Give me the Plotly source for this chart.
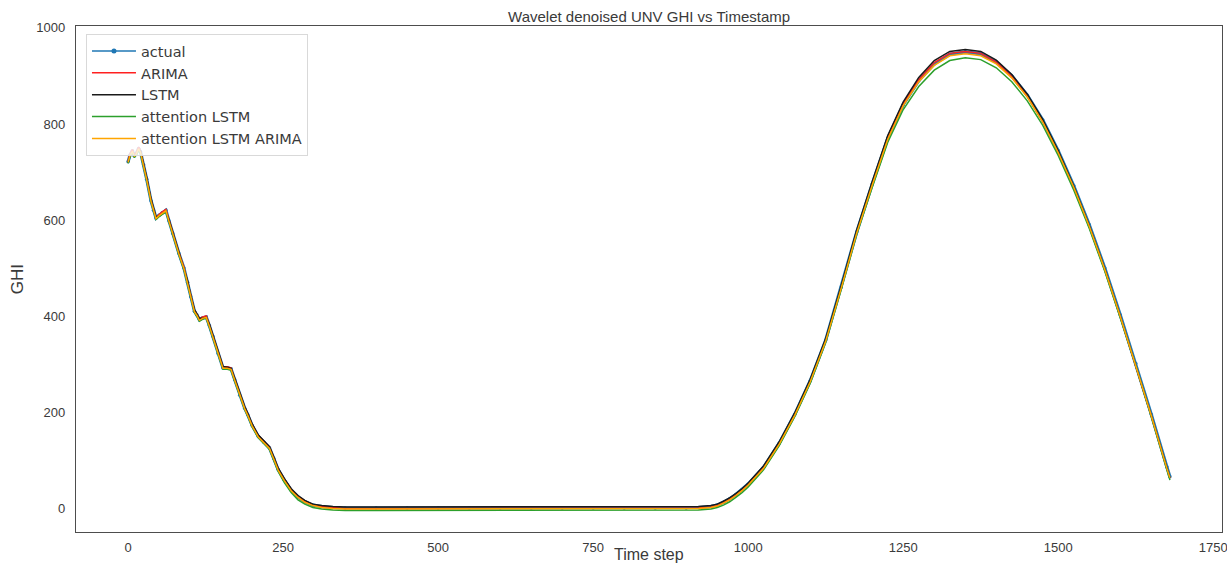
import plotly.graph_objects as go

time_step = [0, 3, 7, 10, 13, 17, 20, 25, 30, 37, 41, 45, 50, 55, 61, 66, 72, 82, 90, 96,
             101, 107, 111, 115, 120, 126, 131, 137, 145, 153, 160, 166, 172, 180, 188, 193, 200, 210, 219, 228,
             235, 242, 252, 263, 274, 285, 298, 312, 330,
             350, 400, 450, 500, 550, 600, 650, 700, 750, 800, 850, 900,
             920, 940, 950, 960, 970, 980, 990, 1000,
             1025, 1050, 1075, 1100, 1125, 1150, 1175, 1200, 1225, 1250, 1275, 1300, 1325, 1350,
             1375, 1400, 1425, 1450, 1475, 1500, 1525, 1550, 1575, 1600, 1625, 1650, 1675, 1680]

actual = [721, 735, 744, 733, 738, 749, 742, 715, 685, 640, 620, 604, 610, 615, 620, 598, 572, 530, 500, 470,
          440, 410, 402, 392, 396, 398, 380, 357, 322, 292, 292, 290, 267, 235, 208, 194, 172, 149, 137, 125,
          103, 80, 58, 37, 23, 13, 6, 3, 1,
          0, 0, 0, 0, 0, 0, 0, 0, 0, 0, 0, 0,
          1, 3, 6, 12, 19, 28, 38, 50,
          85, 135, 195, 265, 350, 460, 575, 675, 770, 840, 890, 925, 945, 950,
          946, 929, 900, 860, 808, 744, 671, 590, 500, 402, 301, 195, 86, 65]

arima = [723, 738, 747, 735, 740, 752, 744, 717, 687, 642, 621, 605, 611, 617, 622, 600, 574, 532, 502, 472,
         442, 412, 404, 394, 398, 400, 382, 359, 324, 294, 294, 292, 269, 237, 210, 196, 174, 151, 139, 127,
         105, 82, 60, 39, 24, 14, 7, 3, 1,
         -1, -1, -1, -1, -1, -1, -1, -1, -1, -1, -1, -1,
         0, 2, 5, 11, 18, 27, 37, 49,
         84, 134, 194, 264, 349, 459, 574, 675, 771, 842, 892, 928, 947, 951,
         947, 929, 899, 858, 805, 741, 668, 587, 497, 399, 298, 192, 83, 62]

lstm = [719, 733, 741, 734, 737, 746, 743, 717, 688, 643, 623, 606, 608, 613, 618, 600, 575, 533, 503, 473,
        443, 413, 404, 395, 395, 397, 383, 360, 325, 295, 293, 291, 270, 238, 211, 197, 175, 152, 139, 128,
        106, 83, 61, 40, 26, 16, 8, 5, 3,
        2, 2, 2, 2, 2, 2, 2, 2, 2, 2, 2, 2,
        3, 5, 8, 14, 21, 30, 40, 52,
        88, 138, 198, 268, 353, 463, 579, 680, 776, 846, 897, 932, 951, 955,
        951, 933, 903, 862, 809, 744, 670, 588, 498, 399, 298, 192, 84, 63]

att_lstm = [718, 732, 741, 730, 735, 745, 739, 712, 682, 637, 617, 601, 607, 612, 617, 595, 569, 527, 497, 467,
            437, 407, 399, 389, 393, 395, 377, 354, 319, 289, 289, 287, 264, 232, 205, 191, 169, 146, 134, 122,
            99, 76, 53, 32, 17, 8, 1, -2, -4,
            -5, -5, -5, -5, -5, -5, -5, -5, -5, -5, -5, -5,
            -4, -2, 1, 6, 13, 22, 32, 44,
            80, 130, 190, 260, 345, 455, 570, 668, 762, 830, 878, 912, 932, 938,
            934, 917, 888, 848, 797, 734, 662, 582, 493, 396, 296, 190, 81, 58]

att_lstm_arima = [720, 734, 743, 732, 737, 748, 741, 714, 684, 639, 619, 603, 609, 614, 619, 597, 571, 529, 499, 469,
                  439, 409, 401, 391, 395, 397, 379, 356, 321, 291, 291, 289, 266, 234, 207, 193, 171, 148, 136, 124,
                  102, 79, 57, 36, 22, 12, 5, 1, -1,
                  -2, -2, -2, -2, -2, -2, -2, -2, -2, -2, -2, -2,
                  -1, 1, 4, 10, 17, 26, 36, 48,
                  83, 133, 193, 263, 348, 458, 573, 673, 768, 838, 888, 922, 942, 946,
                  942, 925, 896, 856, 804, 740, 668, 587, 497, 399, 298, 192, 83, 63]

x_ticks = [0, 250, 500, 750, 1000, 1250, 1500, 1750]
y_ticks = [0, 200, 400, 600, 800, 1000]

FONT = "Liberation Sans, Arial, sans-serif"
TXT = "#3a3a3a"

fig = go.Figure()

# legend entry for actual (line with dot marker)
fig.add_trace(go.Scatter(x=[None], y=[None], mode="lines+markers", name="actual",
                         line=dict(color="#1f77b4", width=1.3),
                         marker=dict(color="#1f77b4", size=5), legendgroup="actual"))
fig.add_trace(go.Scatter(x=time_step, y=actual, mode="lines+markers", name="actual",
                         line=dict(color="#1f77b4", width=3.2),
                         marker=dict(color="#1f77b4", size=3.5),
                         showlegend=False, legendgroup="actual"))
fig.add_trace(go.Scatter(x=time_step, y=arima, mode="lines", name="ARIMA",
                         line=dict(color="#ff2020", width=1.5)))
fig.add_trace(go.Scatter(x=time_step, y=lstm, mode="lines", name="LSTM",
                         line=dict(color="#1a1a1a", width=1.5)))
fig.add_trace(go.Scatter(x=time_step, y=att_lstm, mode="lines", name="attention LSTM",
                         line=dict(color="#2ca02c", width=1.5)))
fig.add_trace(go.Scatter(x=time_step, y=att_lstm_arima, mode="lines", name="attention LSTM ARIMA",
                         line=dict(color="#ffa500", width=1.5)))

fig.update_layout(
    width=1227, height=566,
    margin=dict(l=76, r=5, t=26, b=34),
    paper_bgcolor="white", plot_bgcolor="white",
    font=dict(family=FONT, color=TXT),
    title=dict(text="Wavelet denoised UNV GHI vs Timestamp", x=0.529, xanchor="center",
               y=0.97, yanchor="middle", font=dict(size=15, color=TXT)),
    showlegend=True,
    legend=dict(x=0.0087, y=0.984, xanchor="left", yanchor="top",
                bgcolor="rgba(255,255,255,0.8)", bordercolor="#d9d9d9", borderwidth=1,
                font=dict(size=14.5, color=TXT, family="DejaVu Sans, sans-serif"),
                tracegroupgap=0, itemwidth=44),
    annotations=[dict(text="Time step", xref="paper", yref="paper", x=0.5, y=-0.0652,
                      xanchor="center", yanchor="bottom", showarrow=False,
                      font=dict(size=16, color=TXT, family=FONT))],
)

fig.update_xaxes(range=[-84, 1764], tickvals=x_ticks, showgrid=False, zeroline=False,
                 showline=True, linecolor="#4d4d4d", linewidth=1.3, mirror=True,
                 ticks="outside", ticklen=3, tickcolor="rgba(0,0,0,0)", automargin=False,
                 ticklabeloverflow="allow",
                 tickfont=dict(size=13, color=TXT))
fig.update_yaxes(range=[-50, 1004], tickvals=y_ticks, showgrid=False, zeroline=False,
                 showline=True, linecolor="#4d4d4d", linewidth=1.3, mirror=True,
                 ticks="outside", ticklen=7, tickcolor="rgba(0,0,0,0)", automargin=False,
                 ticklabeloverflow="allow",
                 tickfont=dict(size=13, color=TXT),
                 title=dict(text="GHI", font=dict(size=17, color=TXT), standoff=8))

fig.write_html("out.html")
